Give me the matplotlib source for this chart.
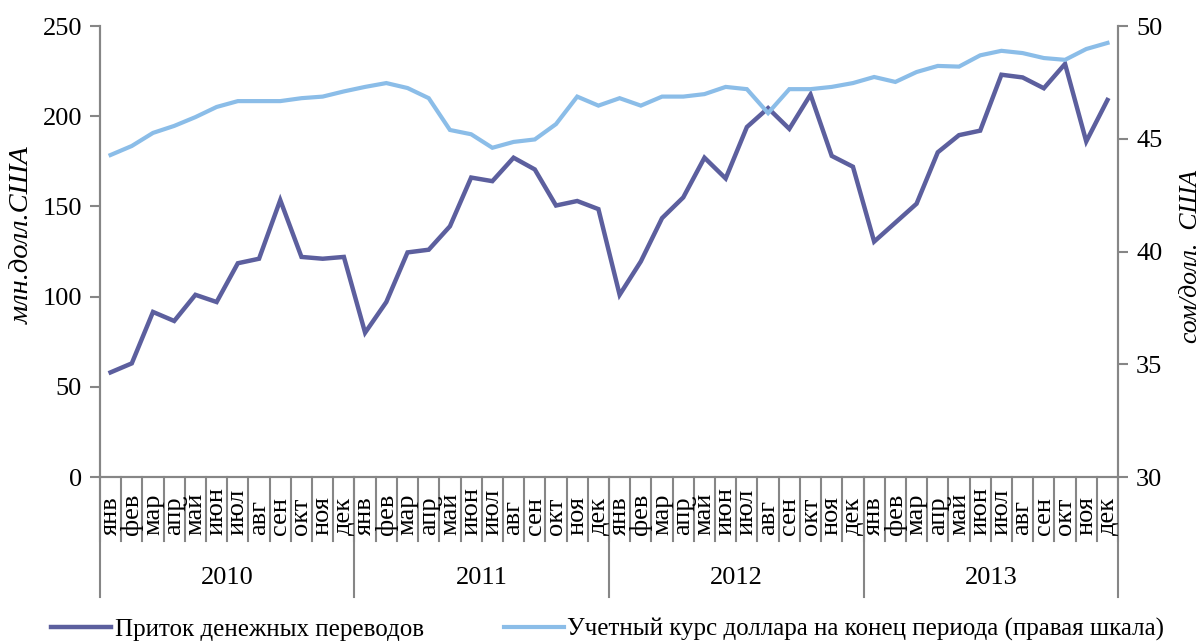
import matplotlib
matplotlib.use("Agg")
import matplotlib.pyplot as plt

plt.rcParams['font.family'] = ['Liberation Serif', 'DejaVu Serif']

# data
years = ['2010', '2011', '2012', '2013']
months = ['янв', 'фев', 'мар', 'апр', 'май', 'июн', 'июл', 'авг', 'сен', 'окт', 'ноя', 'дек']

# remittance inflow, mln USD
inflow = [58, 63, 91.5, 86.5, 101, 97, 118.5, 121, 153.5, 122, 121, 122,
          80, 97, 124.5, 126, 139, 166, 164, 177, 170.5, 150.5, 153, 148.5,
          101, 119.5, 143.5, 155, 177, 165.5, 194, 204.5, 193, 212, 178, 172,
          130.5, 141, 151.5, 180, 189.5, 192, 223, 221.5, 215.5, 229, 186, 209]

# som per USD at end of period (right axis)
rate = [44.28, 44.68, 45.26, 45.57, 45.96, 46.41, 46.67, 46.67, 46.67, 46.80, 46.87, 47.10,
        47.30, 47.47, 47.25, 46.80, 45.39, 45.20, 44.60, 44.86, 44.97, 45.65, 46.87, 46.47,
        46.80, 46.47, 46.87, 46.87, 46.98, 47.30, 47.20, 46.14, 47.20, 47.20, 47.30, 47.47,
        47.74, 47.52, 47.96, 48.23, 48.20, 48.70, 48.90, 48.80, 48.58, 48.50, 48.98, 49.25]

labels_legend = ['Приток денежных переводов',
                 'Учетный курс доллара на конец периода (правая шкала)']

dark = '#5c5f9e'
light = '#8bbde8'
grey = '#868686'
fs = 19

fig = plt.figure(figsize=(12.03, 6.44), dpi=100)
ax = fig.add_axes([0.0831, 0.2593, 0.8463, 0.7003])
ax2 = ax.twinx()

x = list(range(len(inflow)))
l1, = ax.plot(x, inflow, color=dark, lw=3.2, solid_joinstyle='miter', zorder=3)
l2, = ax2.plot(x, rate, color=light, lw=3.0, solid_joinstyle='miter', zorder=2)

ax.set_xlim(-0.5, len(inflow) - 0.5)
ax.set_ylim(0, 250)
ax.set_yticks(range(0, 251, 50))
ax2.set_ylim(30, 50)
ax2.set_yticks(range(30, 51, 5))

for a in (ax, ax2):
    a.spines['top'].set_visible(False)
    for s in ('left', 'right', 'bottom'):
        a.spines[s].set_color(grey)
        a.spines[s].set_linewidth(1.5)
    a.tick_params(axis='y', direction='out', length=7, width=1.5, color=grey,
                  labelsize=fs, pad=6)

ax.set_xticks([])
ax2.set_xticks([])

# month labels and separators below the axis
xt = ax.get_xaxis_transform()
n_years = len(years)
for i in range(n_years * 12 + 1):
    ax.plot([i - 0.5, i - 0.5], [0, -0.142], transform=xt, color=grey,
            lw=1.5, clip_on=False)
for i in range(n_years * 12):
    ax.text(i, -0.1286, months[i % 12], transform=xt, rotation=90,
            ha='center', va='bottom', fontsize=fs)
for k in range(n_years + 1):
    ax.plot([k * 12 - 0.5] * 2, [0, -0.266], transform=xt, color=grey,
            lw=1.5, clip_on=False)
for k, yr in enumerate(years):
    ax.text(k * 12 + 5.5, -0.224, yr, transform=xt, ha='center', va='center',
            fontsize=fs)

ax.set_ylabel('млн.долл.США', fontsize=20.5, style='italic')
ax.yaxis.set_label_coords(-0.064, 0.537)
ax2.set_ylabel('сом/долл.  США', fontsize=18.5, style='italic')
ax2.yaxis.set_label_coords(1.061, 0.49)

fig.legend([l1, l2], labels_legend, loc='center', bbox_to_anchor=(0.505, 0.022),
           ncol=2, frameon=False, fontsize=18, handlelength=2.4,
           handletextpad=0.15, columnspacing=3.2, borderaxespad=0)

fig.savefig('out.png', dpi=100)
